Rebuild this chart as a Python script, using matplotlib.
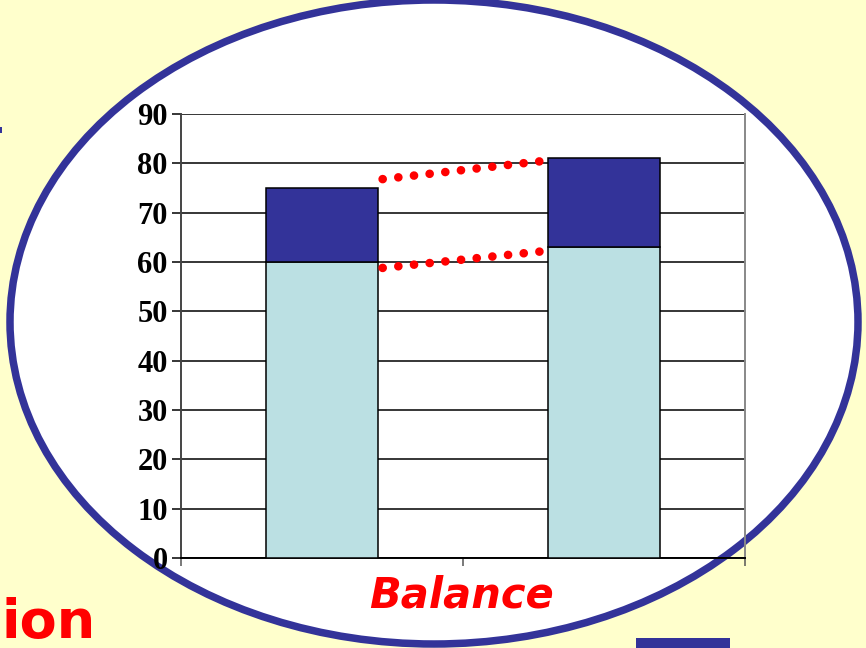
import matplotlib.pyplot as plt
from matplotlib.patches import Ellipse, Rectangle
import numpy as np

# Stacked values for the two columns
base_values = [60, 63]
top_values = [15, 18]
# Dotted connectors between the columns (start, end)
upper_link = [76.8, 80.5]
lower_link = [58.8, 62.2]
y_ticks = [0, 10, 20, 30, 40, 50, 60, 70, 80, 90]
caption = "Balance"
side_word = "ion"

NAVY = "#333399"
PALE = "#BBE0E3"
CREAM = "#FFFFCC"

W, H = 866, 648
fig = plt.figure(figsize=(W / 100, H / 100), dpi=100, facecolor=CREAM)

# White oval backdrop with navy rim
oval = Ellipse((434 / W, 1 - 322 / H), width=848 / W, height=644 / H,
               transform=fig.transFigure, facecolor="white",
               edgecolor=NAVY, lw=5.4, zorder=-5)
fig.add_artist(oval)

# Small navy block at the bottom edge and a tiny mark at the left edge
fig.add_artist(Rectangle((636 / W, 0), 94 / W, 10 / H, transform=fig.transFigure,
                         facecolor=NAVY, edgecolor="none", zorder=-4))
fig.add_artist(Rectangle((0, 1 - 133 / H), 2 / W, 6 / H, transform=fig.transFigure,
                         facecolor=NAVY, edgecolor="none", zorder=-4))

ax = fig.add_axes([181 / W, 90 / H, 564 / W, 444 / H])
ax.set_facecolor("none")
ax.set_zorder(2)

x = np.arange(len(base_values))
bar_w = 0.4
ax.bar(x, base_values, width=bar_w, color=PALE, edgecolor="black", lw=1.1, zorder=3)
ax.bar(x, top_values, bottom=base_values, width=bar_w, color=NAVY,
       edgecolor="black", lw=1.1, zorder=3)

# Dotted red connectors from the right edge of the first column to the left edge of the second
xs = [x[0] + bar_w / 2 + 0.015, x[1] - bar_w / 2 - 0.012]
for link in (upper_link, lower_link):
    ax.plot(xs, link, color="red", lw=6.2, linestyle=(0, (0.01, 1.82)),
            dash_capstyle="round", zorder=4, clip_on=False)

ax.set_xlim(-0.5, 1.5)
ax.set_ylim(0, 90)
ax.set_yticks(y_ticks)
ax.set_yticklabels([str(v) for v in y_ticks], fontfamily="Liberation Serif",
                   fontweight="bold", fontsize=22)
ax.set_xticks([-0.5, 0.5, 1.5])
ax.set_xticklabels([])
ax.tick_params(axis="y", direction="out", length=6.5, width=1.1, color="black", pad=3)
ax.tick_params(axis="x", direction="out", length=6, width=1.1, color="#555555")

ax.yaxis.grid(True, color="black", lw=1.1, zorder=1)
ax.set_axisbelow(True)
ax.spines["top"].set_visible(False)
ax.spines["left"].set_color("#444444")
ax.spines["left"].set_linewidth(1.4)
ax.spines["right"].set_color("#888888")
ax.spines["right"].set_linewidth(1.4)
ax.spines["bottom"].set_color("black")
ax.spines["bottom"].set_linewidth(1.4)

fig.text(462 / W, 1 - 595 / H, caption, ha="center", va="center", color="red",
         fontsize=30, fontweight="bold", fontstyle="italic", family="DejaVu Sans", zorder=5)
fig.text(1 / W, 1 - 638 / H, side_word, ha="left", va="baseline", color="red",
         fontsize=39, fontweight="bold", family="DejaVu Sans", zorder=5)

fig.savefig("out.png", dpi=100, facecolor=CREAM)
